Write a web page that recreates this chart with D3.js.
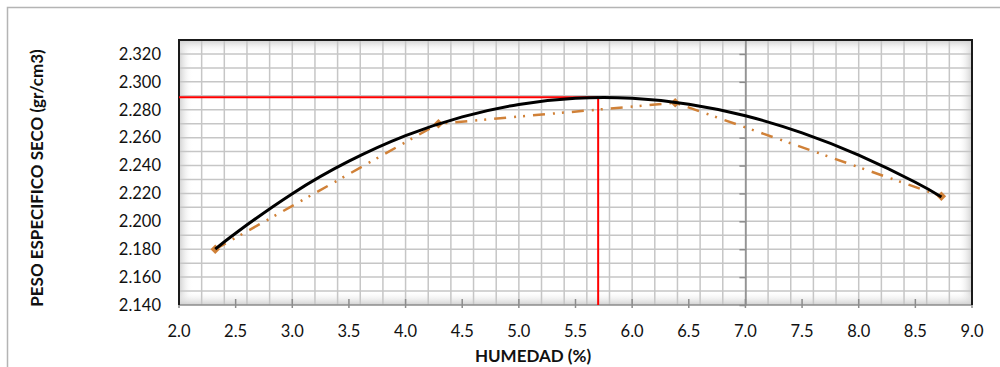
<!DOCTYPE html>
<html>
<head>
<meta charset="utf-8">
<script src="https://cdn.jsdelivr.net/npm/d3@7"></script>
<style>
  body { margin: 0; background: #fff; }
  svg { display: block; font-family: Lato, "Open Sans", sans-serif; }
</style>
</head>
<body>
<svg id="chart"></svg>
<script>
const width = 1000;
const height = 367;

// ensayo (puntos medidos)
const humedad = [2.32, 4.29, 6.38, 8.73];
const pesoSeco = [2.180, 2.270, 2.285, 2.218];

// curva de ajuste (polinomica)
const curvaHumedad = [2.32, 2.5, 3.0, 3.5, 4.0, 4.5, 5.0, 5.5, 6.0, 6.5, 7.0, 7.5, 8.0, 8.5, 8.73];
const curvaPeso = [2.1800, 2.1915, 2.2198, 2.2431, 2.2614, 2.2749, 2.2838, 2.2882, 2.2882, 2.2840, 2.2757, 2.2634, 2.2474, 2.2280, 2.2175];

// optimo
const humedadOptima = [5.70];
const pesoMaximo = [2.289];

const xTicks = [2.0, 2.5, 3.0, 3.5, 4.0, 4.5, 5.0, 5.5, 6.0, 6.5, 7.0, 7.5, 8.0, 8.5, 9.0];
const yTicks = [2.14, 2.16, 2.18, 2.20, 2.22, 2.24, 2.26, 2.28, 2.30, 2.32];

const pLeft = 179, pRight = 972, pTop = 40, pBottom = 305;

const svg = d3.select("#chart")
    .attr("width", width)
    .attr("height", height);

const x = d3.scaleLinear().domain([2, 9]).range([pLeft, pRight]);
const y = d3.scaleLinear().domain([2.14, 2.33]).range([pBottom, pTop]);

// chart border (cut at right/bottom)
svg.append("rect")
    .attr("x", 7.5).attr("y", 7.5)
    .attr("width", 1200).attr("height", 600)
    .attr("fill", "#fff")
    .attr("stroke", "#b4b4b4")
    .attr("stroke-width", 1.5);

// inner shadow gradients
const defs = svg.append("defs");
function grad(id, x1, y1, x2, y2) {
    const g = defs.append("linearGradient").attr("id", id)
        .attr("x1", x1).attr("y1", y1).attr("x2", x2).attr("y2", y2);
    g.append("stop").attr("offset", "0%").attr("stop-color", "#cfcfcf").attr("stop-opacity", 1);
    g.append("stop").attr("offset", "100%").attr("stop-color", "#ffffff").attr("stop-opacity", 0);
}
grad("gL", 0, 0, 1, 0);
grad("gR", 1, 0, 0, 0);
grad("gT", 0, 0, 0, 1);
grad("gB", 0, 1, 0, 0);

svg.append("rect").attr("x", pLeft).attr("y", pTop).attr("width", pRight - pLeft).attr("height", pBottom - pTop).attr("fill", "#fff");
const sh = 14;
svg.append("rect").attr("x", pLeft).attr("y", pTop).attr("width", sh).attr("height", pBottom - pTop).attr("fill", "url(#gL)");
svg.append("rect").attr("x", pRight - sh).attr("y", pTop).attr("width", sh).attr("height", pBottom - pTop).attr("fill", "url(#gR)");
svg.append("rect").attr("x", pLeft).attr("y", pTop).attr("width", pRight - pLeft).attr("height", sh).attr("fill", "url(#gT)");
svg.append("rect").attr("x", pLeft).attr("y", pBottom - sh).attr("width", pRight - pLeft).attr("height", sh).attr("fill", "url(#gB)");

// grid
const grid = svg.append("g").attr("stroke", "#c6c6c6").attr("stroke-width", 1.5);
grid.selectAll(".gx")
    .data(d3.range(1, 35).map(i => 2 + i * 0.2))
    .enter().append("line")
    .attr("x1", d => x(d)).attr("x2", d => x(d))
    .attr("y1", pTop).attr("y2", pBottom);
grid.selectAll(".gy")
    .data(d3.range(1, 19).map(i => 2.14 + i * 0.01))
    .enter().append("line")
    .attr("x1", pLeft).attr("x2", pRight)
    .attr("y1", d => y(d)).attr("y2", d => y(d));

// vertical axis line crossing at 7.0
const yAxis = d3.axisLeft(y).tickValues(yTicks).tickSize(6).tickSizeOuter(0).tickFormat("");
svg.append("g")
    .attr("transform", `translate(${x(7)},0)`)
    .call(yAxis)
    .call(g => g.selectAll("line, path").attr("stroke", "#8a8a8a").attr("stroke-width", 1.5));

// horizontal axis
svg.append("line")
    .attr("x1", pLeft).attr("x2", pRight)
    .attr("y1", pBottom).attr("y2", pBottom)
    .attr("stroke", "#8c8c8c").attr("stroke-width", 1.5);
svg.append("g").selectAll("line")
    .data(xTicks)
    .enter().append("line")
    .attr("x1", d => x(d)).attr("x2", d => x(d))
    .attr("y1", pBottom - 6).attr("y2", pBottom + 3)
    .attr("stroke", "#8c8c8c").attr("stroke-width", 1.5);

// plot border
svg.append("path")
    .attr("d", `M${pLeft},${pBottom}V${pTop}H${pRight}V${pBottom}`)
    .attr("fill", "none").attr("stroke", "#1a1a1a").attr("stroke-width", 2);

// tick labels
svg.append("g").selectAll("text")
    .data(yTicks)
    .enter().append("text")
    .attr("x", 161)
    .attr("y", d => y(d))
    .attr("dy", "0.35em")
    .attr("text-anchor", "end")
    .attr("font-size", 16.5)
    .attr("fill", "#111")
    .text(d => d3.format(".3f")(d));

svg.append("g").selectAll("text")
    .data(xTicks)
    .enter().append("text")
    .attr("x", d => x(d))
    .attr("y", 337)
    .attr("text-anchor", "middle")
    .attr("font-size", 16.5)
    .attr("fill", "#111")
    .text(d => d3.format(".1f")(d));

// axis titles
svg.append("text")
    .attr("x", 533).attr("y", 362)
    .attr("text-anchor", "middle")
    .attr("font-size", 17)
    .attr("font-weight", "bold")
    .attr("fill", "#111")
    .text("HUMEDAD (%)");

svg.append("text")
    .attr("transform", "translate(42.5,178) rotate(-90)")
    .attr("text-anchor", "middle")
    .attr("font-size", 17)
    .attr("font-weight", "bold")
    .attr("fill", "#111")
    .text("PESO ESPECIFICO SECO (gr/cm3)");

// red guide lines
svg.append("line")
    .attr("x1", pLeft).attr("x2", x(humedadOptima[0]))
    .attr("y1", y(pesoMaximo[0])).attr("y2", y(pesoMaximo[0]))
    .attr("stroke", "#ff0000").attr("stroke-width", 2);
svg.append("line")
    .attr("x1", x(humedadOptima[0])).attr("x2", x(humedadOptima[0]))
    .attr("y1", y(pesoMaximo[0])).attr("y2", pBottom)
    .attr("stroke", "#ff0000").attr("stroke-width", 2);

// measured series
const pts = humedad.map((h, i) => [h, pesoSeco[i]]);
const lineOrange = d3.line()
    .x(d => x(d[0])).y(d => y(d[1]));
svg.append("path")
    .datum(pts)
    .attr("d", lineOrange)
    .attr("fill", "none")
    .attr("stroke", "#d08138")
    .attr("stroke-width", 2.5)
    .attr("stroke-dasharray", "12,8,2,7,2,8");

svg.selectAll(".pt")
    .data(pts)
    .enter().append("path")
    .attr("class", "pt")
    .attr("transform", d => `translate(${x(d[0])},${y(d[1])}) rotate(45)`)
    .attr("d", d3.symbol().type(d3.symbolSquare).size(45))
    .attr("fill", "#d08138");

// fitted curve
const curva = curvaHumedad.map((h, i) => [h, curvaPeso[i]]);
svg.append("path")
    .datum(curva)
    .attr("d", d3.line().x(d => x(d[0])).y(d => y(d[1])).curve(d3.curveNatural))
    .attr("fill", "none")
    .attr("stroke", "#000")
    .attr("stroke-width", 3);
</script>
</body>
</html>
